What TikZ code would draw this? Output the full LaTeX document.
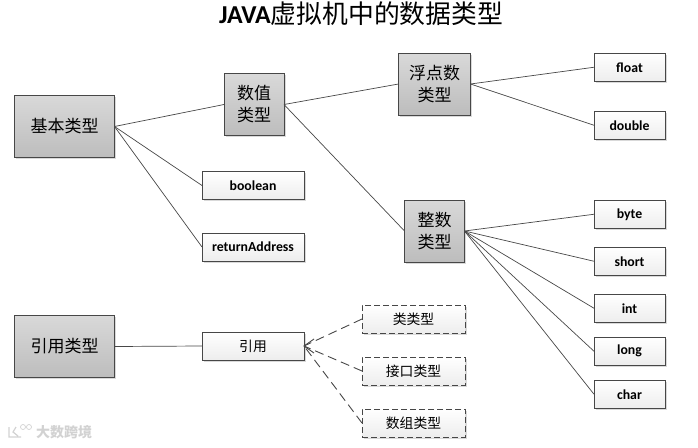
\documentclass[tikz,border=0pt]{standalone}
\usepackage{fontspec}
\setmainfont{Carlito}
\newfontfamily\cjk{Noto Sans CJK SC}
\usetikzlibrary{shadows}
\definecolor{edgegray}{gray}{0.28}
\tikzset{
  basebox/.style={draw=edgegray,line width=0.8pt,anchor=north west,align=center,inner sep=0pt,outer sep=0pt,
    drop shadow={shadow xshift=1.5pt,shadow yshift=-1.5pt,fill=black!25,opacity=0.6}},
  typebox/.style={basebox,top color=gray!30,bottom color=gray!52,font=\cjk\fontsize{17}{22}\selectfont},
  leafbox/.style={basebox,top color=white,bottom color=gray!14,minimum width=71pt,minimum height=28.5pt,font=\bfseries\fontsize{13.8}{15}\selectfont},
  refbox/.style={leafbox,minimum width=102pt,minimum height=28pt},
  dashbox/.style={basebox,dash pattern=on 6pt off 3pt,top color=white,bottom color=gray!14,minimum width=103pt,minimum height=28pt,font=\cjk\fontsize{13.8}{15}\selectfont},
  link/.style={draw=edgegray,line width=0.7pt},
  dashlink/.style={link,dash pattern=on 9pt off 5pt,line width=0.9pt}
}
\begin{document}
\begin{tikzpicture}[x=1pt,y=-1pt]
  \useasboundingbox (0,0) rectangle (698,447);
  % title
  \node (title) at (361,14) {\fontsize{25.8}{30}\selectfont\textbf{JAVA}\cjk 虚拟机中的数据类型};
  % basic types
  \node[typebox,minimum width=100pt,minimum height=62pt] (basic) at (14.5,95.5) {基本类型};
  \node[typebox,minimum width=60pt,minimum height=62pt] (numeric) at (224,73.5) {数值\\类型};
  \node[typebox,minimum width=72pt,minimum height=62pt] (floating) at (398.5,53) {浮点数\\类型};
  \node[typebox,minimum width=60pt,minimum height=62pt] (integer) at (404.5,200) {整数\\类型};
  \node[refbox] (boolean) at (202,171.5) {boolean};
  \node[refbox] (retaddr) at (202,233) {returnAddress};
  % leaves
  \node[leafbox] (float) at (594,53) {float};
  \node[leafbox] (double) at (594,111) {double};
  \node[leafbox] (byte) at (594,200) {byte};
  \node[leafbox] (short) at (594,247) {short};
  \node[leafbox] (int) at (594,294) {int};
  \node[leafbox] (long) at (594,337) {long};
  \node[leafbox] (char) at (594,380) {char};
  % reference types
  \node[typebox,minimum width=100pt,minimum height=62pt] (reftype) at (14.5,315.5) {引用类型};
  \node[refbox,font=\cjk\fontsize{13.8}{15}\selectfont] (ref) at (202,332) {引用};
  \node[dashbox] (class) at (362,305) {类类型};
  \node[dashbox] (iface) at (362,357) {接口类型};
  \node[dashbox] (array) at (362,409) {数组类型};
  % links
  \draw[link] (basic.east) -- (numeric.west);
  \draw[link] (basic.east) -- (boolean.west);
  \draw[link] (basic.east) -- (retaddr.west);
  \draw[link] (numeric.east) -- (floating.west);
  \draw[link] (numeric.east) -- (integer.west);
  \draw[link] (floating.east) -- (float.west);
  \draw[link] (floating.east) -- (double.west);
  \foreach \leaf in {byte,short,int,long,char}
    \draw[link] (integer.east) -- (\leaf.west);
  \draw[link] (reftype.east) -- (ref.west);
  % dashed links, open head at the ref box
  \foreach \target in {class,iface,array}
    \draw[dashlink] (\target.west) -- (ref.east);
  \draw[link,line width=0.9pt] ([shift={(10,-7)}]ref.east) -- (ref.east) -- ([shift={(10,7)}]ref.east);
  % watermark
  \node[anchor=west,text=gray!35,font=\cjk\bfseries\fontsize{14}{16}\selectfont,inner sep=0pt] (mark) at (36,432) {大数跨境};
  \draw[gray!35,line width=1.2pt] (9,427) -- (9,437) -- (21,437) (16,427) -- (13,432) -- (18,436);
  \draw[gray!35,line width=0.7pt] (23,427) circle (2.5) (29,427) circle (2.5);
\end{tikzpicture}
\end{document}
